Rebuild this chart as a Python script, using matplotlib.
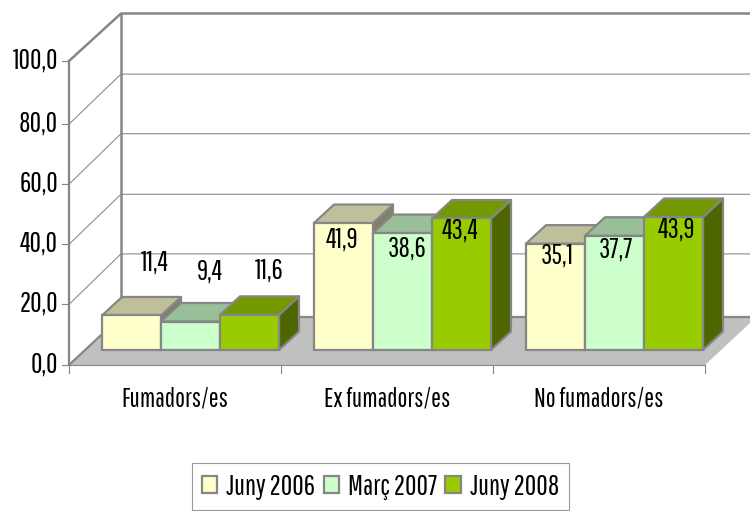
import matplotlib
matplotlib.use('Agg')
import matplotlib.pyplot as plt
from matplotlib.patches import Patch

plt.rcParams['font.family'] = ['Pathway Gothic One', 'Liberation Sans', 'DejaVu Sans']

categories = ['Fumadors/es', 'Ex fumadors/es', 'No fumadors/es']
series = ['Juny 2006', 'Març 2007', 'Juny 2008']
juny06 = [11.4, 41.9, 35.1]
marc07 = [9.4, 38.6, 37.7]
juny08 = [11.6, 43.4, 43.9]
yticks = [0, 20, 40, 60, 80, 100]

# label offsets from the top of each bar, in value units (by hand)
lab_off = [[17.5, 16.5, 14.5],
           [-5.5, -5.0, -4.0],
           [-3.8, -4.5, -4.0]]
# and sideways from the bar centre, in px
lab_dx = [[23, 19, 20], [-1, 5, -1], [2, 1, 3]]
# the source picture has slightly uneven grid spacing, px nudges per tick
front_nudge = [0, 0, 0.5, 1, 1.5, -1]
back_nudge = [0, -2, -1, -1, 0, 0]

front = ['#FFFFCC', '#CCFFCC', '#99CC00']
top = ['#BFBF99', '#99BF99', '#729900']
side = ['#808066', '#668066', '#4D6600']
edge = '#868686'

# one category is 212 px wide, one value unit is 3.03 px high
XS = 212.0
YS = 3.03
wall_dx, wall_dy = 52 / XS, 48.5 / YS
bar_dx, bar_dy = 20 / XS, 18.5 / YS
bar_w = 59 / XS
bar_start = [33 / XS + i for i in range(3)]
base = 15 / YS

fig = plt.figure(figsize=(7.5, 5.11), dpi=100)
ax = fig.add_axes([0, 0, 1, 1])
ax.set_xlim(-69 / XS, 681 / XS)
ax.set_ylim(-146 / YS, 365 / YS)
ax.axis('off')

xmax = 3.0


def front_y(i):
    return yticks[i] - front_nudge[i] / YS


def back_y(i):
    return yticks[i] + wall_dy - back_nudge[i] / YS


# floor
ax.fill([0, xmax, xmax + wall_dx, wall_dx], [0, 0, wall_dy, wall_dy],
        facecolor='#C0C0C0', edgecolor='none', zorder=1)
ax.plot([wall_dx, xmax + wall_dx], [wall_dy, wall_dy], color=edge, lw=1.6, zorder=2)
ax.plot([0, wall_dx], [0, wall_dy], color=edge, lw=1.6, zorder=2)

# grid on the walls
for i in range(1, 5):
    ax.plot([0, wall_dx, xmax + wall_dx], [front_y(i), back_y(i), back_y(i)], color='#8C8C8C', lw=0.8, zorder=2)
ax.plot([0, wall_dx, xmax + wall_dx], [front_y(5), back_y(5), back_y(5)], color=edge, lw=1.8, zorder=2)
ax.plot([0, 0], [0, front_y(5)], color=edge, lw=1.6, zorder=2)
ax.plot([wall_dx, wall_dx], [wall_dy, back_y(5)], color=edge, lw=1.8, zorder=2)

# axis lines and ticks
ax.plot([0, xmax], [0, 0], color=edge, lw=0.8, zorder=2)
for i in range(4):
    ax.plot([i, i], [0, -8 / YS], color=edge, lw=0.8, zorder=2)
for i, v in enumerate(yticks):
    ax.plot([-7 / XS, 0], [front_y(i), front_y(i)], color=edge, lw=0.8, zorder=2)
    ax.text(-11 / XS, front_y(i) + 0.3, f'{v:.1f}'.replace('.', ','), ha='right', va='center', fontsize=20, color='black')

for i, c in enumerate(categories):
    ax.text(i + 0.5, -34 / YS, c, ha='center', va='center', fontsize=19, color='black')

# bars, left to right so the later ones cover the earlier side faces
z = 3
for g in range(3):
    vals = [juny06[g], marc07[g], juny08[g]]
    for s, v in enumerate(vals):
        x0 = bar_start[g] + s * bar_w
        x1 = x0 + bar_w
        h = base + v
        ax.fill([x1, x1 + bar_dx, x1 + bar_dx, x1], [base, base + bar_dy, h + bar_dy, h],
                facecolor=side[s], edgecolor=edge, lw=1.6, joinstyle='round', zorder=z)
        ax.fill([x0, x1, x1 + bar_dx, x0 + bar_dx], [h, h, h + bar_dy, h + bar_dy],
                facecolor=top[s], edgecolor=edge, lw=1.6, joinstyle='round', zorder=z)
        ax.bar(x0, v, width=bar_w, bottom=base, align='edge', color=front[s], edgecolor=edge, lw=1.6, zorder=z + 0.5)
        z += 1

# value labels on top of everything
for g in range(3):
    vals = [juny06[g], marc07[g], juny08[g]]
    for s, v in enumerate(vals):
        xc = bar_start[g] + (s + 0.5) * bar_w + lab_dx[g][s] / XS
        ax.text(xc, base + v + lab_off[g][s], f'{v:.1f}'.replace('.', ','), ha='center', va='center',
                fontsize=20, color='black', zorder=50)

handles = [Patch(facecolor=front[i], edgecolor=edge, lw=1.6, label=series[i]) for i in range(3)]
leg = ax.legend(handles=handles, ncol=3, loc='center', bbox_to_anchor=(380.5 / 750, 1 - 486.5 / 511),
                frameon=True, fancybox=False, framealpha=1, edgecolor='#9A9A9A', fontsize=20,
                handlelength=0.55, handleheight=0.55, handletextpad=0.32, columnspacing=0.3,
                borderpad=0.37, labelspacing=0, borderaxespad=0)
leg.get_frame().set_linewidth(0.8)
leg.set_zorder(60)

fig.savefig('out.png', dpi=100)
